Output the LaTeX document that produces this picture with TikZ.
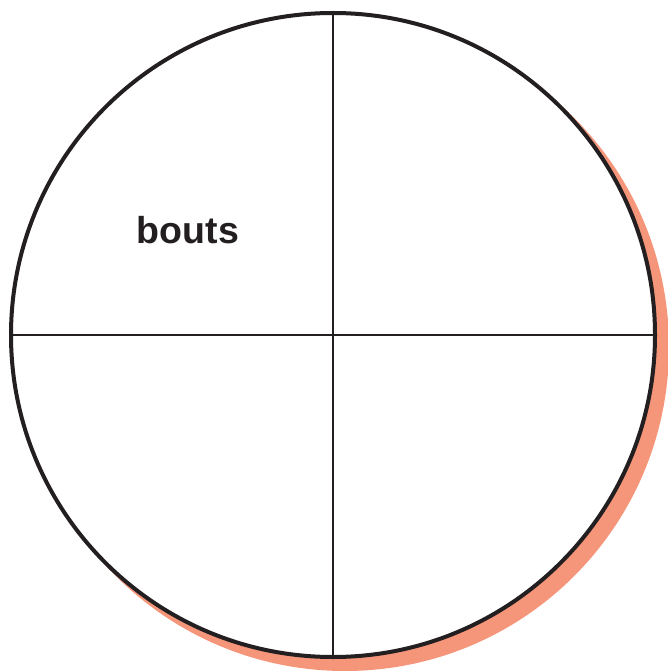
\documentclass[tikz,border=0pt]{standalone}
\usepackage{fontspec}
\setmainfont{Liberation Sans}
\definecolor{shadowsalmon}{RGB}{245,150,122}
\definecolor{inkblack}{RGB}{35,31,32}
\tikzset{
  disc/.style={circle, minimum size=644pt, inner sep=0pt, outer sep=0pt},
  divider/.style={draw=inkblack, line width=2pt},
  lbl/.style={font=\bfseries\fontsize{37.5}{40}\selectfont, text=inkblack, anchor=base, inner sep=0pt}
}
\begin{document}
\begin{tikzpicture}[x=1pt,y=-1pt]
\useasboundingbox (0,0) rectangle (667,671);
\node[disc, fill=shadowsalmon, minimum size=648pt] (shadow) at (345,347) {};
\node[disc, fill=white] (c) at (333,335) {};
\draw[divider] (c.north) -- (c.south);
\draw[divider] (c.west) -- (c.east);
\node[disc, draw=inkblack, line width=4pt] (ring) at (333,335) {};
\node[lbl] (t) at (188,243) {bouts};
\end{tikzpicture}
\end{document}
